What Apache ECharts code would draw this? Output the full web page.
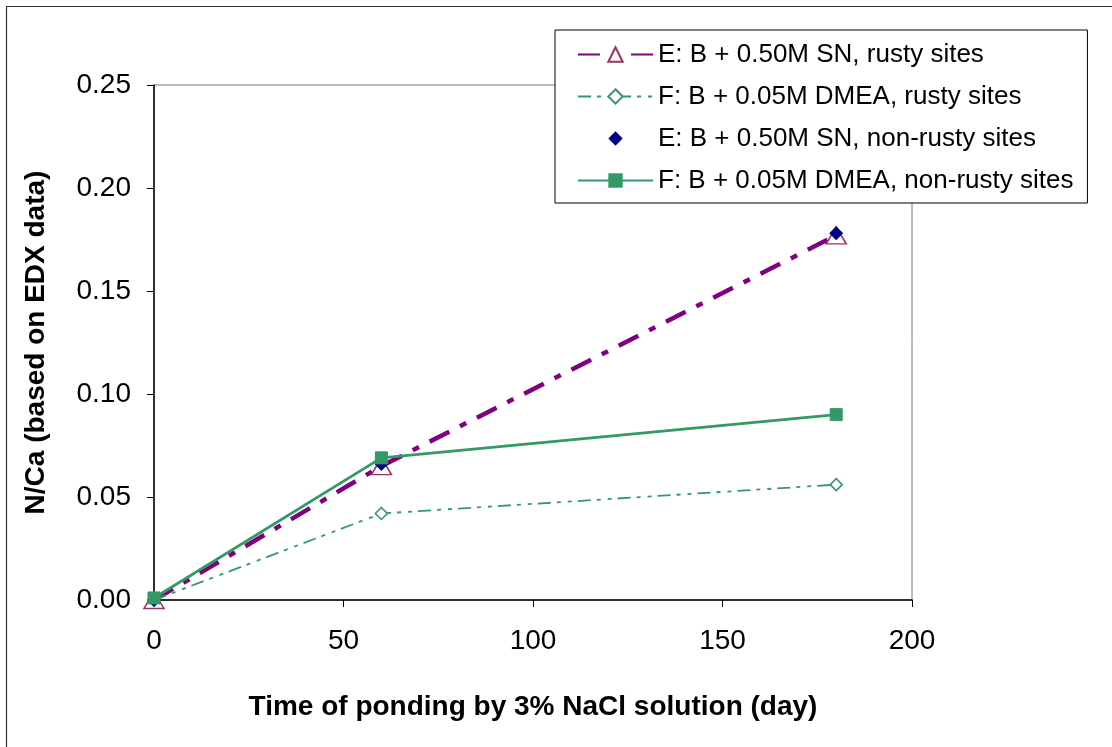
<!DOCTYPE html>
<html>
<head>
<meta charset="utf-8">
<script src="https://cdn.jsdelivr.net/npm/echarts@6/dist/echarts.min.js"></script>
<style>
html,body{margin:0;padding:0;background:#fff;}
#chart{width:1112px;height:747px;}
</style>
</head>
<body>
<div id="chart"></div>
<script>
const xDays = [0, 60, 180];
const eRusty = [0.000, 0.065, 0.177];
const fRusty = [0.000, 0.042, 0.056];
const eNonRusty = [0.000, 0.066, 0.178];
const fNonRusty = [0.001, 0.069, 0.090];
const seriesNames = [
  'E: B + 0.50M SN, rusty sites',
  'F: B + 0.05M DMEA, rusty sites',
  'E: B + 0.50M SN, non-rusty sites',
  'F: B + 0.05M DMEA, non-rusty sites'
];
const xTitle = 'Time of ponding by 3% NaCl solution (day)';
const yTitle = 'N/Ca (based on EDX data)';

const pairs = arr => xDays.map((x, i) => [x, arr[i]]);
const font = 'Liberation Sans, Arial, sans-serif';

const chart = echarts.init(document.getElementById('chart'), null, {renderer: 'canvas'});
chart.setOption({
  animation: false,
  backgroundColor: '#fff',
  graphic: [{
    type: 'rect', z: -10, silent: true,
    shape: {x: 6.5, y: 6.5, width: 1200, height: 800},
    style: {fill: 'none', stroke: '#333', lineWidth: 1.2}
  }],
  grid: {left: 154, right: 200, top: 85, bottom: 147, show: true, borderColor: '#777', borderWidth: 1, backgroundColor: 'transparent'},
  legend: {
    orient: 'vertical', left: 555, top: 30,
    backgroundColor: '#fff', borderColor: '#000', borderWidth: 1,
    padding: [9, 14, 7, 22],
    itemWidth: 75, itemHeight: 18, itemGap: 11,
    textStyle: {fontFamily: font, fontSize: 26, color: '#000', lineHeight: 31},
    data: seriesNames
  },
  xAxis: {
    type: 'value', min: 0, max: 200, interval: 50,
    name: xTitle, nameLocation: 'middle', nameGap: 93,
    nameTextStyle: {fontFamily: font, fontSize: 28, fontWeight: 'bold', color: '#000'},
    axisLine: {onZero: false, lineStyle: {color: '#000', width: 1.5}},
    axisTick: {inside: false, length: 7, lineStyle: {color: '#000'}},
    axisLabel: {fontFamily: font, fontSize: 28, color: '#000', margin: 27},
    splitLine: {show: false}
  },
  yAxis: {
    type: 'value', min: 0, max: 0.25, interval: 0.05,
    name: yTitle, nameLocation: 'middle', nameGap: 104,
    nameTextStyle: {fontFamily: font, fontSize: 28, fontWeight: 'bold', color: '#000'},
    axisLine: {show: true, onZero: false, lineStyle: {color: '#000', width: 1.5}},
    axisTick: {show: true, inside: false, length: 7, lineStyle: {color: '#000'}},
    axisLabel: {fontFamily: font, fontSize: 28, color: '#000', margin: 23, formatter: v => v.toFixed(2)},
    splitLine: {show: false}
  },
  series: [
    {
      name: seriesNames[0], type: 'line', data: pairs(eRusty),
      symbol: 'triangle', symbolSize: [20, 17], showAllSymbol: true,
      itemStyle: {color: '#fff', borderColor: '#993366', borderWidth: 1.5},
      lineStyle: {color: '#800080', width: 4.5, type: [22, 12, 7, 12], cap: 'butt'},
      z: 2
    },
    {
      name: seriesNames[1], type: 'line', data: pairs(fRusty),
      symbol: 'diamond', symbolSize: 12,
      itemStyle: {color: '#fff', borderColor: '#339966', borderWidth: 1.6},
      lineStyle: {color: '#339966', width: 1.8, type: [13, 6, 4, 7, 4, 6]},
      z: 3
    },
    {
      name: seriesNames[2], type: 'line', data: pairs(eNonRusty),
      symbol: 'diamond', symbolSize: 14,
      itemStyle: {color: '#000080', borderColor: '#000080', borderWidth: 0},
      lineStyle: {width: 0, opacity: 0},
      z: 4
    },
    {
      name: seriesNames[3], type: 'line', data: pairs(fNonRusty),
      symbol: 'rect', symbolSize: 12,
      itemStyle: {color: '#339966', borderColor: '#339966'},
      lineStyle: {color: '#339966', width: 2.8},
      z: 5
    }
  ]
});
</script>
</body>
</html>
